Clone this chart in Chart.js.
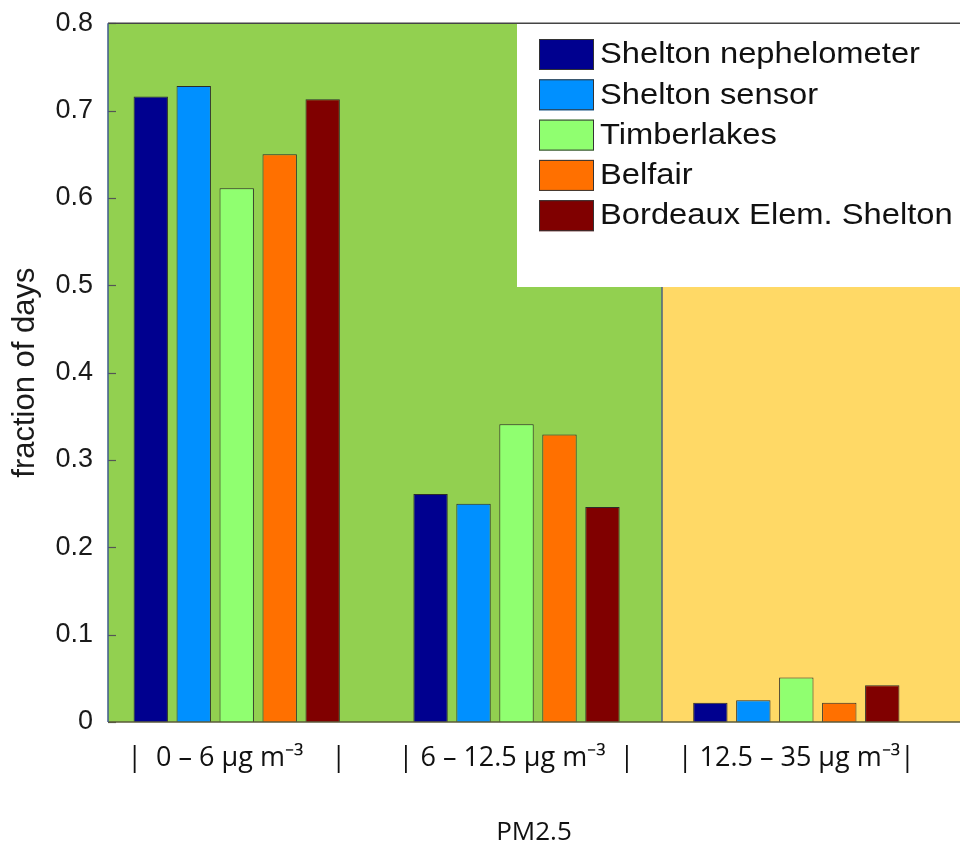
<!DOCTYPE html>
<html lang="en">
<head>
<meta charset="UTF-8">
<title>PM2.5 – fraction of days</title>
<script src="https://cdn.jsdelivr.net/npm/chart.js"></script>
<style>
  html, body { margin: 0; padding: 0; background: #fff; }
</style>
</head>
<body>
<canvas id="pmChart" width="960" height="848"></canvas>
<script>
// concentration bands on the x axis (positions 1..3)
const bandLabels = ['|  0 – 6 μg m⁻³    |', '| 6 – 12.5 μg m⁻³  |', '| 12.5 – 35 μg m⁻³|'];
const bandPos = [1, 2, 3];

const sites = ['Shelton nephelometer', 'Shelton sensor', 'Timberlakes', 'Belfair', 'Bordeaux Elem. Shelton'];
const siteColors = ['#00008F', '#0090FF', '#90FF70', '#FF7000', '#800000'];

// fraction of days per band, one array per site
const sheltonNeph   = [0.716, 0.261, 0.022];
const sheltonSensor = [0.728, 0.250, 0.025];
const timberlakes   = [0.611, 0.341, 0.051];
const belfair       = [0.650, 0.329, 0.022];
const bordeaux      = [0.713, 0.246, 0.042];
const siteValues = [sheltonNeph, sheltonSensor, timberlakes, belfair, bordeaux];

const yTicks = [0, 0.1, 0.2, 0.3, 0.4, 0.5, 0.6, 0.7, 0.8];

// background bands: "good" up to the split, "moderate" after
const zoneSplit = 2.52;
const zoneGood = '#92D050';
const zoneModerate = '#FFD966';

const backdrop = {
    id: 'backdrop',
    beforeDatasetsDraw(chart) {
        const { ctx, chartArea: a, scales: { x } } = chart;
        const xs = x.getPixelForValue(zoneSplit);
        ctx.save();
        ctx.fillStyle = zoneGood;
        ctx.fillRect(a.left, a.top, xs - a.left, a.bottom - a.top);
        ctx.fillStyle = zoneModerate;
        ctx.fillRect(xs, a.top, a.right - xs, a.bottom - a.top);
        // divider between the bands
        ctx.strokeStyle = '#4d6280';
        ctx.lineWidth = 1.5;
        ctx.beginPath();
        ctx.moveTo(xs, a.top);
        ctx.lineTo(xs, a.bottom);
        ctx.stroke();
        ctx.restore();
    },
    afterDatasetsDraw(chart) {
        const { ctx, chartArea: a, scales: { y } } = chart;
        ctx.save();

        // legend box in the upper right
        const box = { left: 517, top: a.top, right: a.right, bottom: 287 };
        ctx.fillStyle = '#fff';
        ctx.fillRect(box.left, box.top, box.right - box.left, box.bottom - box.top);
        ctx.font = '30px "Liberation Sans", Arial, sans-serif';
        ctx.textBaseline = 'middle';
        chart.data.datasets.forEach((ds, i) => {
            const top = 39 + i * 40.3;
            ctx.fillStyle = ds.backgroundColor;
            ctx.fillRect(539, top, 55, 31);
            ctx.strokeStyle = '#333';
            ctx.lineWidth = 1;
            ctx.strokeRect(539.5, top + 0.5, 54, 30);
            ctx.save();
            ctx.translate(600, top + 16);
            ctx.scale(1.09, 1);
            ctx.fillStyle = '#111';
            ctx.fillText(ds.label, 0, 0);
            ctx.restore();
        });

        // inner tick marks on the y axis
        ctx.strokeStyle = '#555';
        ctx.lineWidth = 1.2;
        y.ticks.forEach(t => {
            const py = Math.round(y.getPixelForValue(t.value)) + 0.5;
            ctx.beginPath();
            ctx.moveTo(a.left, py);
            ctx.lineTo(a.left + 8, py);
            ctx.stroke();
        });

        // frame lines: top, bottom, left
        ctx.strokeStyle = '#444';
        ctx.lineWidth = 1.5;
        ctx.beginPath();
        ctx.moveTo(a.left, a.top);
        ctx.lineTo(a.right, a.top);
        ctx.stroke();
        ctx.strokeStyle = '#5a5a3a';
        ctx.beginPath();
        ctx.moveTo(a.left, a.bottom);
        ctx.lineTo(a.right, a.bottom);
        ctx.stroke();
        ctx.strokeStyle = '#3f5a8c';
        ctx.beginPath();
        ctx.moveTo(a.left, a.top);
        ctx.lineTo(a.left, a.bottom);
        ctx.stroke();
        ctx.restore();
    }
};

const datasets = sites.map((name, i) => ({
    label: name,
    data: bandPos.map((p, j) => ({ x: p, y: siteValues[i][j] })),
    backgroundColor: siteColors[i],
    borderColor: '#2b2b2b',
    borderWidth: 1,
    categoryPercentage: 0.768,
    barPercentage: 0.8
}));

new Chart(document.getElementById('pmChart'), {
    type: 'bar',
    data: { datasets },
    plugins: [backdrop],
    options: {
        responsive: false,
        animation: false,
        layout: { padding: { top: 22, right: 0, left: 0, bottom: 0 } },
        plugins: {
            legend: { display: false },
            tooltip: { enabled: false }
        },
        scales: {
            x: {
                type: 'linear',
                offset: false,
                min: 0.54,
                max: 3.585,
                afterBuildTicks: s => { s.ticks = bandPos.map(v => ({ value: v })); },
                afterFit: s => {
                    s.height = 126;
                    // wide band labels must not shrink the axis range
                    s.paddingLeft = 0;
                    s.paddingRight = 0;
                },
                grid: { display: false },
                border: { display: false },
                ticks: {
                    autoSkip: false,
                    maxRotation: 0,
                    padding: 12,
                    color: '#111',
                    font: { family: '"Open Sans", sans-serif', size: 27 },
                    callback: (v, i) => bandLabels[i]
                },
                title: {
                    display: true,
                    text: 'PM2.5',
                    color: '#111',
                    font: { family: '"Open Sans", sans-serif', size: 26, lineHeight: 1.2 },
                    padding: { top: 0, bottom: 0 }
                }
            },
            y: {
                min: 0,
                max: 0.8,
                afterBuildTicks: s => { s.ticks = yTicks.map(v => ({ value: v })); },
                afterFit: s => { s.width = 108; },
                grid: { display: false },
                border: { display: false },
                ticks: {
                    padding: 7,
                    color: '#1a1a1a',
                    font: { family: '"Liberation Sans", Arial, sans-serif', size: 27 },
                    callback: v => (v === 0 ? '0' : v.toFixed(1))
                },
                title: {
                    display: true,
                    text: 'fraction of days',
                    color: '#1a1a1a',
                    font: { family: '"Liberation Sans", Arial, sans-serif', size: 31, lineHeight: 1.2 },
                    padding: { top: 7, bottom: 0 }
                }
            }
        }
    }
});
</script>
</body>
</html>
